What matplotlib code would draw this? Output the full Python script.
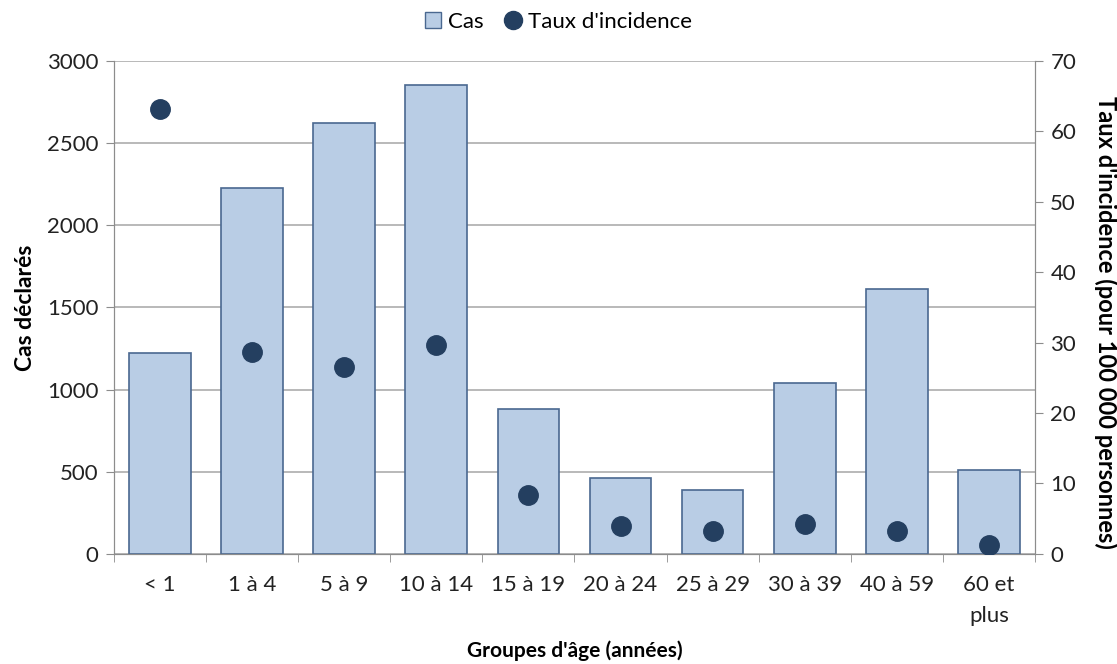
import matplotlib.pyplot as plt
import numpy as np
from matplotlib.patches import Patch
from matplotlib.lines import Line2D

plt.rcParams['font.family'] = ['Lato', 'DejaVu Sans']

# Cas déclarés et taux d'incidence par groupe d'âge
groupes = ["< 1", "1 à 4", "5 à 9", "10 à 14", "15 à 19", "20 à 24",
           "25 à 29", "30 à 39", "40 à 59", "60 et\nplus"]
cas = [1225, 2230, 2620, 2855, 880, 463, 387, 1040, 1615, 512]
taux = [63.2, 28.6, 26.5, 29.7, 8.4, 3.9, 3.2, 4.2, 3.2, 1.3]

bar_fill = "#B9CDE5"
bar_edge = "#4A6890"
dot_color = "#243F60"
axis_gray = "#8C8C8C"
text_color = "#222222"

fig, ax = plt.subplots(figsize=(11.17, 6.64), dpi=100)
fig.subplots_adjust(left=0.102, right=0.9266, top=0.908, bottom=0.166)

x = np.arange(len(groupes))
ax.bar(x, cas, width=0.67, color=bar_fill, edgecolor=bar_edge, linewidth=1.2, zorder=2)

ax.set_xlim(-0.5, len(groupes) - 0.5)
ax.set_ylim(0, 3000)
ax.set_yticks(range(0, 3001, 500))
ax.yaxis.grid(True, color="#ADADAD", linewidth=1.2)
ax.set_axisbelow(True)

# labels at the centres, tick marks between the groups
ax.set_xticks(x)
ax.set_xticklabels(groupes, fontsize=16, color=text_color, linespacing=1.7)
ax.tick_params(axis="x", length=0, pad=15)
ax.set_xticks(np.arange(-0.5, len(groupes), 1), minor=True)
ax.tick_params(axis="x", which="minor", length=6, color=axis_gray)
ax.tick_params(axis="y", labelsize=16, labelcolor=text_color, length=6, color=axis_gray, pad=5)

for side in ["left", "bottom", "right"]:
    ax.spines[side].set_color(axis_gray)
ax.spines["top"].set_visible(False)

ax.set_ylabel("Cas déclarés", fontsize=16.5, fontweight="bold", labelpad=8)
ax.set_xlabel("Groupes d'âge (années)", fontsize=15, fontweight="bold", va="center")
ax.xaxis.set_label_coords(0.5, -0.197)

# second axis for the incidence rate
ax2 = ax.twinx()
ax2.plot(x, taux, linestyle="none", marker="o", markersize=14,
         color=dot_color, zorder=3)
ax2.set_ylim(0, 70)
ax2.set_yticks(range(0, 71, 10))
ax2.tick_params(axis="y", labelsize=16, labelcolor=text_color, length=6, color=axis_gray, pad=5)
for side in ["left", "bottom", "right"]:
    ax2.spines[side].set_color(axis_gray)
ax2.spines["top"].set_visible(False)
ax2.set_ylabel("Taux d'incidence (pour 100 000 personnes)", fontsize=17,
               fontweight="bold", rotation=-90, va="center", ha="center")
ax2.yaxis.set_label_coords(1.077, 0.47)

handles = [Patch(facecolor=bar_fill, edgecolor=bar_edge, label="Cas"),
           Line2D([], [], linestyle="none", marker="o", markersize=13,
                  color=dot_color, label="Taux d'incidence")]
fig.legend(handles=handles, loc="upper center", bbox_to_anchor=(0.5, 1.012),
           ncol=2, frameon=False, fontsize=16, handlelength=0.7,
           handletextpad=0.3, columnspacing=1.0)

fig.savefig("out.png", dpi=100)
